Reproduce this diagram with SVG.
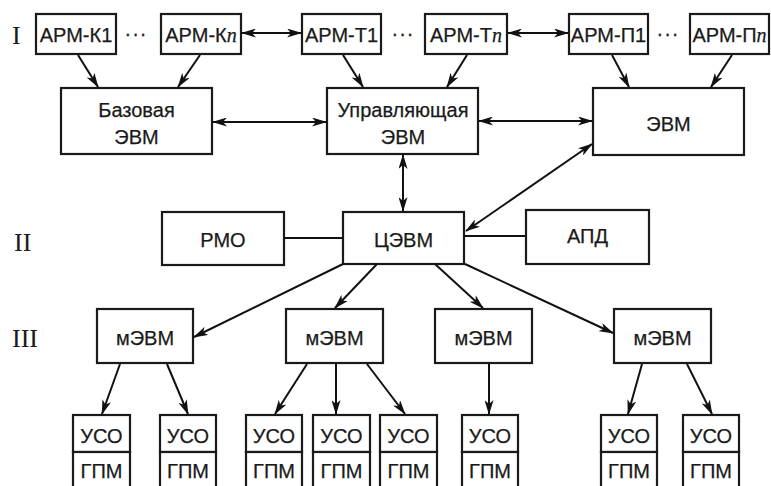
<svg xmlns="http://www.w3.org/2000/svg" width="771" height="486" viewBox="0 0 771 486">
<defs>
<marker id="ah" viewBox="0 0 15 9" markerWidth="15" markerHeight="9" markerUnits="userSpaceOnUse" refX="14" refY="4.5" orient="auto-start-reverse">
<path d="M0,0 L15,4.5 L0,9 L4,4.5 z" fill="#111"/>
</marker>
<style>
rect{fill:#fff;stroke:#1a1a1a;stroke-width:2.2}
text{font-family:"Liberation Sans",Arial,sans-serif;font-size:20px;fill:#1a1a1a;text-anchor:middle;stroke:#1a1a1a;stroke-width:0.25}
.it{font-family:"Liberation Serif","Times New Roman",serif;font-style:italic}
.rn{font-family:"Liberation Serif","Times New Roman",serif;font-size:26px;text-anchor:start;stroke:none}
.dots{font-size:20px;letter-spacing:1px}
#conn line{stroke:#111;stroke-width:2;fill:none}
.a{marker-end:url(#ah)}
.d{marker-start:url(#ah);marker-end:url(#ah)}
</style>
</defs>
<rect x="0" y="0" width="771" height="486" style="fill:#fff;stroke:none"/>
<text class="rn" x="12" y="44">I</text>
<text class="rn" x="14" y="251">II</text>
<text class="rn" x="12" y="347">III</text>
<text class="dots" x="136" y="40">···</text>
<text class="dots" x="403" y="40">···</text>
<text class="dots" x="668" y="40">···</text>

<g id="armk1"><rect x="36" y="14" width="80" height="40"/><text x="76" y="42">АРМ-К1</text></g>
<g id="armkn"><rect x="161" y="14" width="80" height="40"/><text x="201" y="42">АРМ-К<tspan class="it">n</tspan></text></g>
<g id="armt1"><rect x="302" y="14" width="79" height="40"/><text x="341.5" y="42">АРМ-Т1</text></g>
<g id="armtn"><rect x="425" y="14" width="82" height="40"/><text x="466" y="42">АРМ-Т<tspan class="it">n</tspan></text></g>
<g id="armp1"><rect x="569" y="14" width="79" height="40"/><text x="608.5" y="42">АРМ-П1</text></g>
<g id="armpn"><rect x="690" y="14" width="79" height="40"/><text x="729.5" y="42">АРМ-П<tspan class="it">n</tspan></text></g>

<g id="base"><rect x="61" y="88" width="151" height="66"/><text x="136.5" y="117">Базовая</text><text x="136.5" y="144">ЭВМ</text></g>
<g id="upr"><rect x="327" y="88" width="151" height="66"/><text x="403" y="117">Управляющая</text><text x="403" y="144">ЭВМ</text></g>
<g id="evm"><rect x="593" y="88" width="151" height="67"/><text x="668.5" y="131">ЭВМ</text></g>

<g id="rmo"><rect x="162" y="212" width="122" height="53"/><text x="223" y="247">РМО</text></g>
<g id="cevm"><rect x="343" y="212" width="121" height="52"/><text x="403.5" y="247">ЦЭВМ</text></g>
<g id="apd"><rect x="526" y="210" width="123" height="54"/><text x="587.5" y="243">АПД</text></g>

<g id="m1"><rect x="97" y="309" width="96" height="54"/><text x="145" y="345">мЭВМ</text></g>
<g id="m2"><rect x="286" y="309" width="97" height="54"/><text x="334.5" y="345">мЭВМ</text></g>
<g id="m3"><rect x="435" y="309" width="97" height="54"/><text x="483.5" y="345">мЭВМ</text></g>
<g id="m4"><rect x="614" y="309" width="97" height="54"/><text x="662.5" y="345">мЭВМ</text></g>

<g id="u1"><rect x="73" y="415" width="57" height="37"/><rect x="73" y="452" width="57" height="40"/><text x="101.5" y="443">УСО</text><text x="101.5" y="478">ГПМ</text></g>
<g id="u2"><rect x="160" y="415" width="56" height="37"/><rect x="160" y="452" width="56" height="40"/><text x="188" y="443">УСО</text><text x="188" y="478">ГПМ</text></g>
<g id="u3"><rect x="246" y="415" width="56" height="37"/><rect x="246" y="452" width="56" height="40"/><text x="274" y="443">УСО</text><text x="274" y="478">ГПМ</text></g>
<g id="u4"><rect x="313" y="415" width="57" height="37"/><rect x="313" y="452" width="57" height="40"/><text x="341.5" y="443">УСО</text><text x="341.5" y="478">ГПМ</text></g>
<g id="u5"><rect x="380" y="415" width="57" height="37"/><rect x="380" y="452" width="57" height="40"/><text x="408.5" y="443">УСО</text><text x="408.5" y="478">ГПМ</text></g>
<g id="u6"><rect x="462" y="415" width="56" height="37"/><rect x="462" y="452" width="56" height="40"/><text x="490" y="443">УСО</text><text x="490" y="478">ГПМ</text></g>
<g id="u7"><rect x="601" y="415" width="56" height="37"/><rect x="601" y="452" width="56" height="40"/><text x="629" y="443">УСО</text><text x="629" y="478">ГПМ</text></g>
<g id="u8"><rect x="683" y="415" width="56" height="37"/><rect x="683" y="452" width="56" height="40"/><text x="711" y="443">УСО</text><text x="711" y="478">ГПМ</text></g>

<g id="conn">
<line class="d" x1="242" y1="33" x2="301" y2="33"/>
<line class="d" x1="508" y1="33" x2="568" y2="33"/>
<line class="a" x1="78" y1="55" x2="98" y2="87"/>
<line class="a" x1="200" y1="55" x2="178" y2="87"/>
<line class="a" x1="343" y1="55" x2="363" y2="87"/>
<line class="a" x1="467" y1="55" x2="447" y2="87"/>
<line class="a" x1="612" y1="55" x2="629" y2="87"/>
<line class="a" x1="732" y1="55" x2="711" y2="87"/>
<line class="d" x1="213" y1="122" x2="326" y2="122"/>
<line class="d" x1="479" y1="121" x2="592" y2="121"/>
<line class="d" x1="403" y1="155" x2="403" y2="211"/>
<line class="d" x1="592" y1="144" x2="466" y2="231"/>
<line x1="284" y1="238" x2="343" y2="238"/>
<line x1="464" y1="236" x2="526" y2="236"/>
<line class="a" x1="343" y1="264" x2="194" y2="337"/>
<line class="a" x1="377" y1="264" x2="335" y2="308"/>
<line class="a" x1="435" y1="264" x2="483" y2="308"/>
<line class="a" x1="465" y1="264" x2="613" y2="333"/>
<line class="a" x1="120" y1="364" x2="102" y2="414"/>
<line class="a" x1="167" y1="364" x2="188" y2="414"/>
<line class="a" x1="307" y1="364" x2="275" y2="414"/>
<line class="a" x1="336" y1="364" x2="336" y2="414"/>
<line class="a" x1="367" y1="364" x2="405" y2="414"/>
<line class="a" x1="489" y1="364" x2="489" y2="414"/>
<line class="a" x1="642" y1="364" x2="628" y2="414"/>
<line class="a" x1="687" y1="364" x2="712" y2="414"/>
</g>
</svg>
